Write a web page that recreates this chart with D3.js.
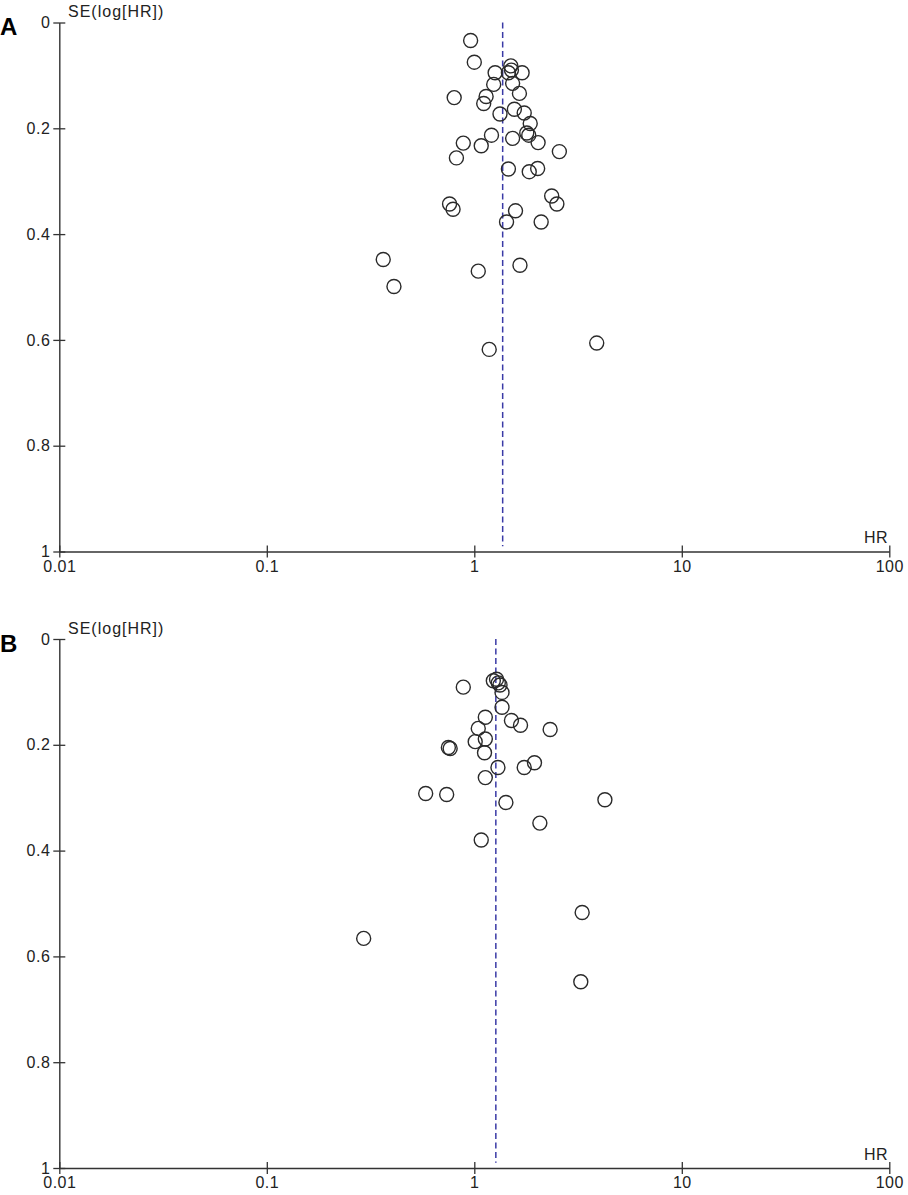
<!DOCTYPE html>
<html>
<head>
<meta charset="utf-8">
<script src="https://cdn.jsdelivr.net/npm/d3@7"></script>
<style>
  body { margin: 0; background: #fff; }
  text { font-family: "Liberation Sans", Arial, sans-serif; fill: #222; }
</style>
</head>
<body>
<script>
/* ------------------------------- Data ------------------------------- */
// panel A: hazard ratio and standard error of log(HR) for each study
const hrA = [0.96, 1.00, 1.26, 1.50, 1.51, 1.46, 1.70, 1.24, 1.53, 1.65, 0.80, 1.14, 1.11, 1.33,
             1.56, 1.74, 1.86, 1.79, 1.83, 1.53, 2.03, 1.21, 0.885, 1.08, 0.82, 2.57, 1.46, 1.84,
             2.02, 2.36, 2.50, 0.76, 0.79, 1.58, 1.43, 2.10, 0.364, 1.045, 1.66, 0.41, 1.18, 3.89];
const seA = [0.034, 0.075, 0.095, 0.082, 0.090, 0.095, 0.095, 0.117, 0.115, 0.134, 0.142, 0.140,
             0.153, 0.173, 0.164, 0.171, 0.191, 0.209, 0.213, 0.219, 0.227, 0.213, 0.228, 0.233,
             0.256, 0.244, 0.277, 0.282, 0.276, 0.328, 0.343, 0.343, 0.353, 0.356, 0.377, 0.377,
             0.448, 0.470, 0.459, 0.499, 0.618, 0.606];
const pooledA = 1.37;

// panel B
const hrB = [0.885, 1.235, 1.28, 1.305, 1.33, 1.36, 1.36, 1.51, 1.67, 2.32, 1.13, 1.045, 1.13, 1.01,
             0.75, 0.765, 1.12, 1.30, 1.74, 1.95, 1.13, 0.583, 0.736, 1.42, 4.26, 2.07, 1.08,
             0.293, 3.31, 3.26];
const seB = [0.091, 0.079, 0.076, 0.083, 0.087, 0.101, 0.129, 0.154, 0.163, 0.171, 0.148, 0.169,
             0.189, 0.194, 0.205, 0.207, 0.215, 0.243, 0.243, 0.234, 0.262, 0.292, 0.294, 0.309,
             0.304, 0.348, 0.380, 0.566, 0.517, 0.648];
const pooledB = 1.27;

const xTicks = [0.01, 0.1, 1, 10, 100];
const xTickLabels = ["0.01", "0.1", "1", "10", "100"];
const yTicks = [0, 0.2, 0.4, 0.6, 0.8, 1];
const yTickLabels = ["0", "0.2", "0.4", "0.6", "0.8", "1"];

/* ------------------------------ Layout ------------------------------ */
const width = 908, height = 1195;
const left = 59.3, right = 889.3;
const panels = [
  { letter: "A", hr: hrA, se: seA, pooled: pooledA, top: 22.5 },
  { letter: "B", hr: hrB, se: seB, pooled: pooledB, top: 639 }
];
const plotH = 529;
const axisColor = "#333";

const svg = d3.select("body").append("svg").attr("width", width).attr("height", height);

const x = d3.scaleLog().domain([0.01, 100]).range([left, right]);

panels.forEach(p => {
  const y = d3.scaleLinear().domain([0, 1]).range([p.top, p.top + plotH]);
  const g = svg.append("g");

  // panel letter
  g.append("text")
    .attr("x", 0).attr("y", p.top + 12.5)
    .style("font-size", "24px").style("font-weight", "bold").style("fill", "#000")
    .text(p.letter);

  // y axis
  const yAxis = g.append("g")
    .attr("transform", `translate(${left},0)`)
    .call(d3.axisLeft(y).tickValues(yTicks).tickFormat((d, i) => yTickLabels[i])
      .tickSizeInner(6).tickSizeOuter(0).tickPadding(3));
  yAxis.selectAll("line").attr("x1", 6);

  // x axis
  const xAxis = g.append("g")
    .attr("transform", `translate(0,${p.top + plotH})`)
    .call(d3.axisBottom(x).tickValues(xTicks).tickFormat((d, i) => xTickLabels[i])
      .tickSizeInner(6).tickSizeOuter(0).tickPadding(3));
  xAxis.selectAll("line").attr("y1", -6);

  [yAxis, xAxis].forEach(a => {
    a.select(".domain").attr("stroke", axisColor).attr("stroke-width", 1.4);
    a.selectAll("line").attr("stroke", axisColor).attr("stroke-width", 1.3);
    a.selectAll("text").style("font-size", "16px").style("letter-spacing", "0.5px")
      .attr("fill", "#222");
  });

  // axis titles
  g.append("text")
    .attr("x", 68).attr("y", p.top - 5.5)
    .style("font-size", "16px").style("letter-spacing", "1px")
    .text("SE(log[HR])");
  g.append("text")
    .attr("x", 888).attr("y", p.top + plotH - 8.5)
    .attr("text-anchor", "end")
    .style("font-size", "16px").style("letter-spacing", "0.5px")
    .text("HR");

  // pooled estimate
  g.append("line")
    .attr("x1", x(p.pooled)).attr("x2", x(p.pooled))
    .attr("y1", y(0)).attr("y2", y(0.99))
    .attr("stroke", "#3a3aa6").attr("stroke-width", 1.5)
    .attr("stroke-dasharray", "6,3.5");

  // studies
  g.selectAll("circle")
    .data(p.hr.map((d, i) => ({ hr: d, se: p.se[i] })))
    .enter().append("circle")
    .attr("cx", d => x(d.hr))
    .attr("cy", d => y(d.se))
    .attr("r", 7)
    .attr("fill", "none")
    .attr("stroke", "#2a2a2a")
    .attr("stroke-width", 1.4);
});
</script>
</body>
</html>
